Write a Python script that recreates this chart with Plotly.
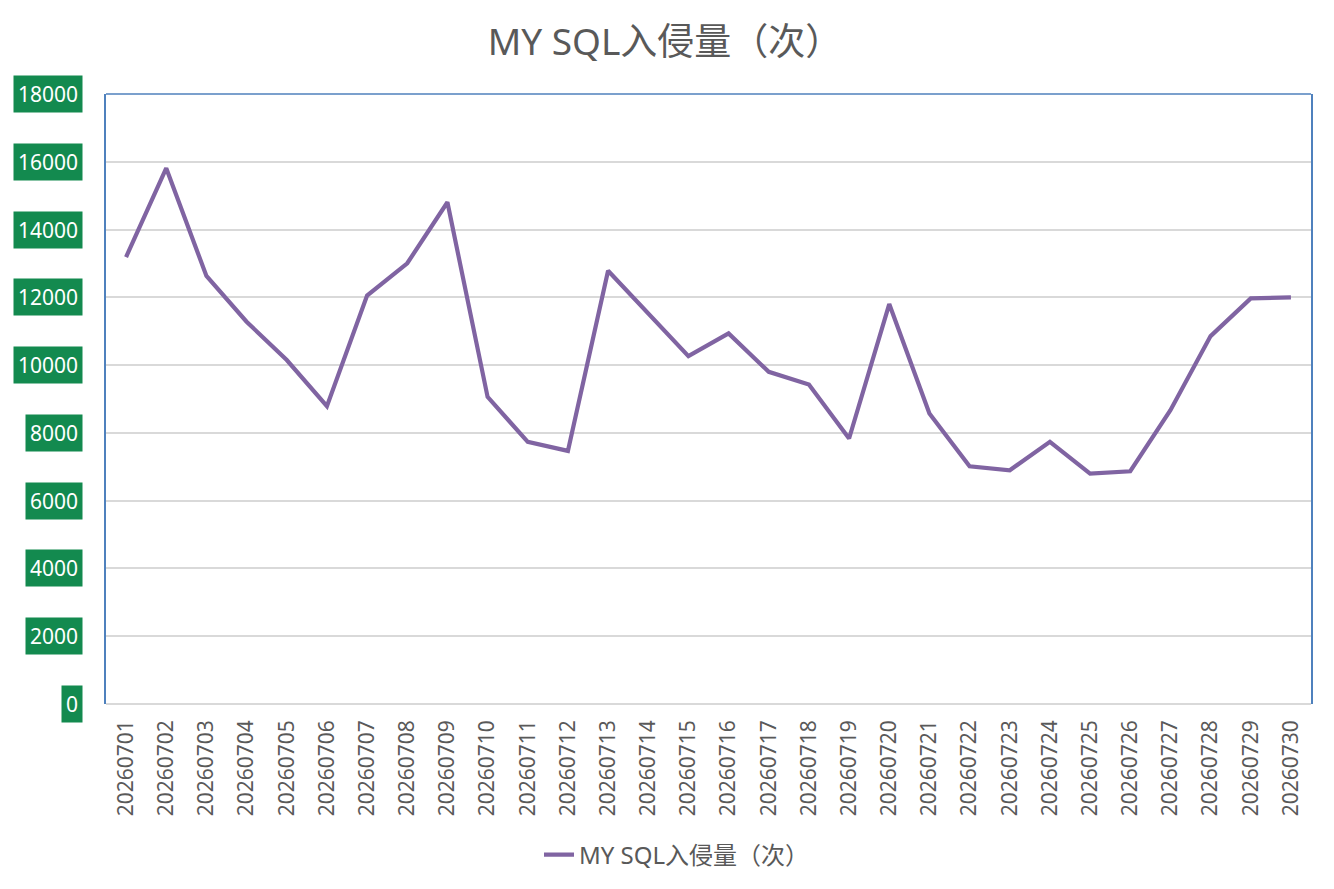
import plotly.graph_objects as go

dates = ["202607%02d" % d for d in range(1, 31)]
values = [13190, 15810, 12630, 11280, 10150, 8790, 12050, 13005, 14805, 9063,
          7734, 7468, 12785, 11527, 10265, 10936, 9801, 9429, 7834, 11801,
          8573, 7016, 6898, 7734, 6800, 6868, 8670, 10856, 11970, 12000]
y_ticks = list(range(0, 18001, 2000))
series_name = "MY SQL入侵量（次）"

FONT = "Noto Sans, Noto Sans CJK SC, sans-serif"
GRAY = "#595959"
BLUE = "#4F81BD"
GREEN = "#138A4F"
PURPLE = "#8064A2"

W, H = 1326, 881

fig = go.Figure()
fig.add_trace(go.Scatter(x=dates, y=values, mode="lines", name=series_name,
                         line=dict(color=PURPLE, width=4.2)))

annotations = []
for t in y_ticks:
    annotations.append(dict(
        x=0, xref="paper", y=t, yref="y", xanchor="right", yanchor="middle",
        xshift=-23, text=str(t), showarrow=False,
        font=dict(family=FONT, size=21, color="white"),
        bgcolor=GREEN, borderpad=4))

fig.update_layout(
    width=W, height=H,
    paper_bgcolor="white", plot_bgcolor="white",
    margin=dict(l=98, r=23, t=86, b=185),
    title=dict(text=series_name, x=657 / W, xref="container", xanchor="center",
               y=1 - 34 / H, yref="container", yanchor="middle",
               font=dict(family=FONT, size=37, color=GRAY)),
    showlegend=True,
    legend=dict(orientation="h", x=669 / W, xref="container", xanchor="center",
                y=1 - 847 / H, yref="container", yanchor="middle",
                font=dict(family=FONT, size=24, color=GRAY)),
    xaxis=dict(type="category", range=[-0.5, len(dates) - 0.5], tickangle=-90,
               showgrid=False, showline=False, automargin=False,
               ticks="", tickfont=dict(family=FONT, size=21, color=GRAY),
               ticklabelstandoff=11, zeroline=False),
    yaxis=dict(range=[0, 18000], dtick=2000, showgrid=True, gridcolor="#D9D9D9",
               gridwidth=1.5, showticklabels=False, ticks="", automargin=False,
               showline=True, linecolor=BLUE, linewidth=1.5, mirror=True,
               zeroline=True, zerolinecolor="#D9D9D9", zerolinewidth=1.5),
    shapes=[dict(type="line", xref="paper", yref="paper", x0=0, x1=1, y0=1, y1=1,
                 line=dict(color=BLUE, width=1.5))],
    annotations=annotations,
)

fig.write_html("out.html")
